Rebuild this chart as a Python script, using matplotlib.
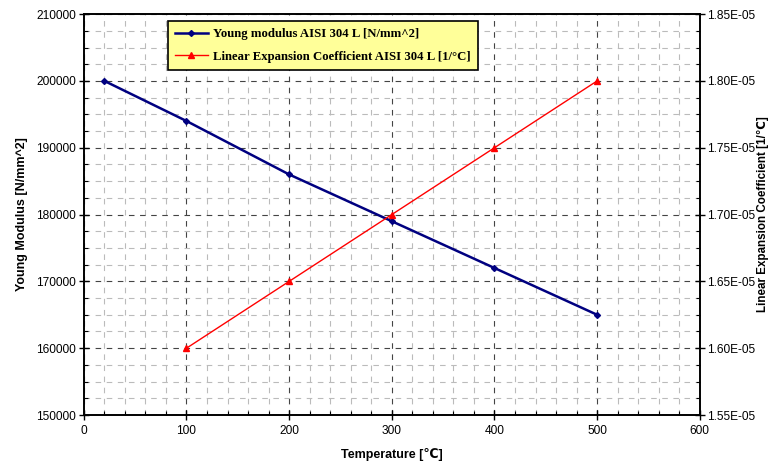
import matplotlib.pyplot as plt
from matplotlib.ticker import MultipleLocator, FormatStrFormatter

plt.rcParams['font.family'] = ['Liberation Sans', 'DejaVu Sans']

temp_young = [20, 100, 200, 300, 400, 500]
young = [200000, 194000, 186000, 179000, 172000, 165000]
temp_exp = [100, 200, 300, 400, 500]
expansion = [1.60e-5, 1.65e-5, 1.70e-5, 1.75e-5, 1.80e-5]

fig = plt.figure(figsize=(7.69, 4.70), dpi=100)
ax = fig.add_axes([0.109, 0.117, 0.801, 0.853])
ax2 = ax.twinx()

ax.set_xlim(0, 600)
ax.set_ylim(150000, 210000)
ax2.set_ylim(1.55e-5, 1.85e-5)

ax.xaxis.set_major_locator(MultipleLocator(100))
ax.xaxis.set_minor_locator(MultipleLocator(20))
ax.yaxis.set_major_locator(MultipleLocator(10000))
ax.yaxis.set_minor_locator(MultipleLocator(2500))
ax2.yaxis.set_major_locator(MultipleLocator(0.05e-5))
ax2.yaxis.set_minor_locator(MultipleLocator(0.0125e-5))
ax2.yaxis.set_major_formatter(FormatStrFormatter('%.2E'))

ax.grid(which='minor', color='#bbbbbb', linestyle=(0, (5, 5)), linewidth=0.8)
ax.grid(which='major', color='#444444', linestyle=(0, (5, 5)), linewidth=0.8)
ax.set_axisbelow(True)

l1, = ax.plot(temp_young, young, color='#000080', lw=1.8, marker='D', ms=3,
              label='Young modulus AISI 304 L [N/mm^2]', zorder=3)
l2, = ax2.plot(temp_exp, expansion, color='#ff0000', lw=1.0, marker='^', ms=5,
               label='Linear Expansion Coefficient AISI 304 L [1/°C]', zorder=3)

for a in (ax, ax2):
    a.tick_params(which='major', direction='inout', length=7, width=1, labelsize=8.6)
    a.tick_params(which='minor', direction='in', length=3, width=0.8)
    for s in a.spines.values():
        s.set_linewidth(1.2)
ax.tick_params(axis='y', pad=2)
ax2.tick_params(axis='y', pad=2)

ax.set_xlabel('Temperature [℃]', fontsize=9, fontweight='bold', labelpad=8)
ax.set_ylabel('Young Modulus [N/mm^2]', fontsize=9, fontweight='bold', labelpad=6)
ax2.set_ylabel('Linear Expansion Coefficient [1/℃]', fontsize=8.4, fontweight='bold')
ax2.yaxis.set_label_coords(1.093, 0.5)

leg = ax2.legend(handles=[l1, l2], loc='upper left', bbox_to_anchor=(0.136, 0.982),
                 borderaxespad=0,
                 prop={'family': 'Liberation Serif', 'weight': 'bold', 'size': 9.2},
                 frameon=True, fancybox=False, facecolor='#ffff99', edgecolor='black',
                 framealpha=1, handlelength=2.6, handletextpad=0.4,
                 borderpad=0.55, labelspacing=0.8)
leg.get_frame().set_linewidth(1.2)

fig.savefig('out.png', dpi=100)
